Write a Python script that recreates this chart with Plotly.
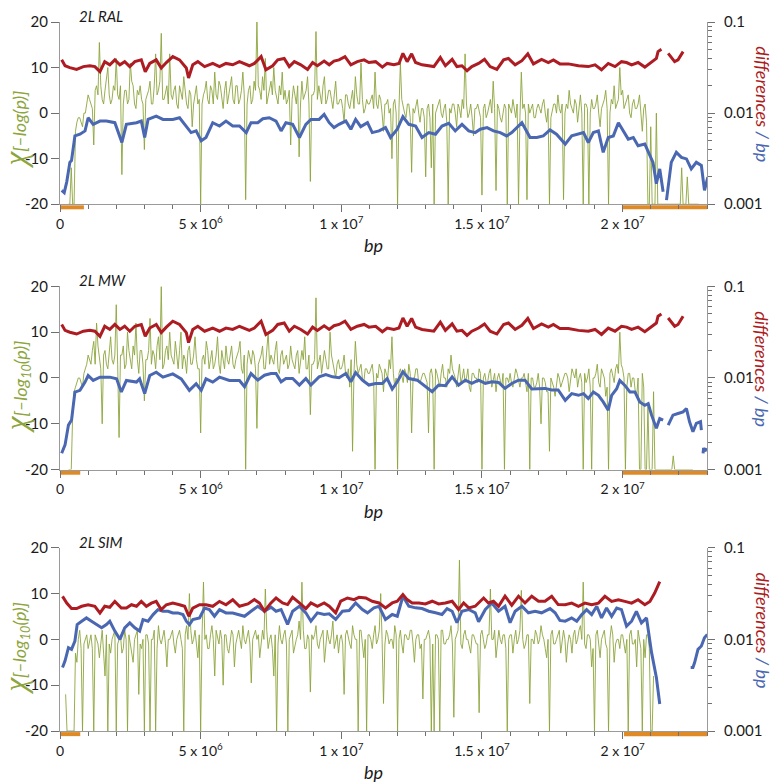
import plotly.graph_objects as go

# ---------------- data ----------------
panel_names = ["2L RAL", "2L MW", "2L SIM"]
x_tick_vals = [0, 5e6, 1e7, 1.5e7, 2e7]
x_tick_text = ["0", "5 x 10<sup>6</sup>", "1 x 10<sup>7</sup>", "1.5 x 10<sup>7</sup>", "2 x 10<sup>7</sup>"]
x_minor_vals = [i * 1e6 for i in range(0, 24)]
y_left_vals = [-20, -10, 0, 10, 20]
y_left_text = ["-20", "-10", "0", "10", "20"]
y_right_vals = [0.001, 0.01, 0.1]
y_right_text = ["0.001", "0.01", "0.1"]
y_right_minor = [0.002, 0.003, 0.004, 0.005, 0.006, 0.007, 0.008, 0.009,
                 0.02, 0.03, 0.04, 0.05, 0.06, 0.07, 0.08, 0.09]

window_mb = 0.1  # green windows, Mb (a second set sits half a window later)

# chi-square score, -log(p); windows at start + 0.1k Mb
green_ral_start = 0.3
green_ral = [
    -20, -12, -20, -2, -1, -3, 0,
    4, 2, -7, 6, 15.5, 3, 5, 10, 2, 6,
    12, 3, -13.5, 5, 2, 11, 6, 1, 4, 3,
    -8, 4, 7, 2, 13, 5, 17.5, 3, 6, 13,
    3, 6, 1, 4, 8, 2, 5, -3, 4, 2,
    -20, 4, 7, 2, 5, 9, 3, 6, 1, 7,
    4, 8, 2, 6, 3, 9, -19, 5, 2, 7,
    20, 5, 8, 12, 4, 7, 10, 3, 6, 9,
    5, 3, -7, 6, 2, -9.6, 7, 4, 8, -15,
    4, 17.9, 6, 2, 8, 3, 5, 1, 7, 2,
    3, -2, 4, 1, 5, 8, 2, 11, 0, 3,
    2, 4, 9, 1, 3, -4, 2, 0, -10, 3,
    -20, 11, 1, -1, 2, -13, 0, 3, -2, 1,
    -14, 2, -12, -20, 1, 3, -1, 2, -20, 0,
    2, -3, 1, 3, 13, -1, 2, -5, 1, 0,
    -18, 2, 0, 3, 7, -17, 1, -2, 2, -20,
    1, 3, -1, -20, 9, 2, -19, 0, 2, -1,
    2, 0, 3, -2, -20, 1, 2, 4, 0, -19,
    2, 5, 1, 3, -2, 4, -20, 2, -20, 3,
    1, 4, -3, 2, 5, -20, 3, 6, 2, 10,
    5, 2, 4, -1, 3, 1, 4, -4, 2, -20,
    -3, -20, 0, -20, -20, -20, -20, -20, -20, -20,
    -20, -12, -20, -14, -20, -20, -20, -20,
]
# windows at start + 0.05 + 0.1k Mb
green_ral_mid = [
    -20, -20, -4, -1, -2, 0, 2,
    3, 1, 5, 4, 6, 2, 7, 4, 3, 5,
    4, 6, 2, 5, 3, 7, 2, 5, 6, 2,
    3, 5, 2, 6, 4, 7, 3, 5, 2, 4,
    5, 2, 6, 3, 5, 1, 4, 2, 6, 3,
    2, 5, 3, 6, 2, 4, 7, 3, 5, 2,
    5, 3, 6, 2, 5, 4, 2, 6, 3, 5,
    6, 3, 5, 2, 6, 4, 5, 2, 4, 3,
    2, 5, 3, 4, 6, 2, 3, 5, 2, 4,
    5, 3, 4, 6, 2, 5, 3, 4, 2, 3,
    1, 4, 2, 3, 1, 4, 2, 3, 1, 2,
    3, 1, 2, 4, 0, 2, 3, 1, 2, 0,
    1, 3, 0, 2, -1, 1, 2, 0, 1, -1,
    1, -1, 2, 0, 2, 0, 1, -2, 1, 2,
    0, 2, -1, 1, 2, 0, -1, 1, 2, -1,
    1, -1, 2, 0, 1, 2, -1, 0, 1, 2,
    0, 1, 2, -1, 1, 0, 2, 1, -1, 1,
    1, 2, 0, 1, -1, 2, 0, 1, 2, 0,
    1, 2, 0, 2, 1, 0, 2, 1, 0, 1,
    2, 0, 1, 3, 1, 0, 2, 1, 3, 4,
    1, 3, 0, 2, 1, 2, 0, 1, -2, -20,
    -20, -20, -20, -20, -20, -20, -20, -20, -20, -20,
    -20, -20, -20, -20, -20, -20, -20,
]
green_mw_start = 0.3
green_mw = [
    -20, -20, -3, -1, 0, -2, 2,
    5, 3, 8, 12, 4, -10, 6, 2, 9, 3,
    16, -13, 5, 2, 10, 4, 7, 12, 1, 6,
    -5, 4, 13, 6, 2, 9, 20, 3, 7, 10,
    4, 8, 2, 10, 5, 1, 7, 3, 9, 2,
    -12, 5, 8, 2, 6, 3, 9, 1, 4, 7,
    3, 7, 2, 5, 8, 1, -20, 6, 3, 5,
    -11, 4, 7, 2, 10, 5, 3, 8, 1, 6,
    4, 2, 7, 3, 5, 1, 6, 9, 2, -8,
    3, 17.5, 4, 1, 6, 2, 10, 3, 0, 4,
    2, 5, 0, -2, -16, 8, 1, 3, -1, 2,
    1, 3, -20, 0, 2, -3, 1, 4, 9, -2,
    -20, 2, -1, 1, 3, -12, 0, 2, -1, 1,
    0, -12, 2, -20, 1, -2, 3, 0, 2, 5,
    1, -2, 3, 0, -1, 2, -3, 1, 0, 2,
    -20, 1, -1, 2, 0, -3, 1, -2, -20, 0,
    1, -2, 2, -1, 0, 1, -3, -20, 0, -2,
    1, -10, 0, -3, -16, -1, -4, 1, -2, 0,
    1, -3, 2, 0, -2, 1, -20, -1, 2, -20,
    0, 3, -2, 1, -4, -20, 2, -1, 3, 10,
    2, -20, 1, -2, 0, -4, -20, 1, -20, -6,
    -20, -3, -20, -20, -20, -20, -20, -20, -17, -20,
    -20, -20, -20, -20, -20, -20,
]
green_mw_mid = [
    -20, -8, -2, 0, -1, 1, 3,
    4, 6, 3, 7, 2, 5, 3, 6, 4, 5,
    3, 5, 7, 3, 6, 2, 5, 4, 6, 3,
    4, 6, 3, 5, 7, 4, 2, 6, 4, 5,
    3, 5, 6, 2, 4, 6, 3, 5, 4, 2,
    4, 3, 6, 4, 2, 5, 3, 6, 2, 4,
    5, 3, 4, 6, 2, 5, 3, 4, 6, 2,
    3, 5, 2, 6, 3, 4, 6, 2, 5, 3,
    5, 3, 4, 2, 6, 3, 4, 2, 5, 3,
    4, 2, 5, 3, 4, 2, 5, 1, 3, 2,
    3, 1, 2, 4, 1, 3, 2, 0, 2, 1,
    2, 0, 1, 3, 1, 2, 0, 2, 1, 0,
    1, 0, 2, -1, 1, 0, 2, -1, 0, 1,
    -1, 1, 0, 2, -1, 1, 0, -2, 1, 2,
    0, 1, -1, 2, 0, -2, 1, 0, -1, 1,
    0, -1, 1, -2, 1, 0, -1, 1, 0, -1,
    -1, 0, 1, -2, 0, -1, 1, 0, -2, -1,
    -2, 0, -1, -3, 0, -2, -1, 0, -1, 1,
    0, -1, 1, 2, 0, -1, 1, 0, -2, 0,
    1, -1, 2, 0, -2, 1, 0, 2, 1, 3,
    0, -2, 1, 0, -3, 0, -20, -2, -20, -20,
    -20, -20, -20, -20, -20, -20, -20, -20, -20, -20,
    -20, -20, -20, -20, -20,
]
green_sim_start = 0.2
green_sim = [
    -12, -20, -20, -20, -5, 2, -20, 0,
    -2, 1, -20, 0, -4, 2, -8, -20, -3, 1,
    -20, 0, -3, 2, -20, -1, -5, 1, -12, -2,
    -20, 1, -20, 0, -20, 3, -1, 2, -6, 0,
    2, -3, 1, 0, -20, 3, 10, -1, 2, -4,
    -20, 12.5, 1, -2, 3, -8, 0, 2, -10, 1,
    -3, 2, -6, 1, 0, 3, -1, 2, -9.5, 1,
    0, -4, 2, 11, -2, 1, -8, -20, 3, -1,
    2, -20, 1, -3, 0, 4, 12.5, -2, 1, -11.5,
    0, 3, -2, 1, -5, 2, -1, 4, 0, -3,
    1, -12, 2, -1, 3, 0, -20, 2, -4, -20,
    1, -2, 3, 0, 10, -14, 2, -1, 0, 3,
    -20, 2, -3, 1, 0, 2, -5, 1, -2, -13,
    0, 2, -20, -20, 1, -20, 2, -1, 0, 3,
    -17, 1, 17.3, -2, 2, 0, -3, 1, -1, -16,
    2, -2, 1, 11, 0, -4, 2, -1, 1, -20,
    1, -3, 2, 0, 10.7, -2, 1, -14, 0, 2,
    -1, 3, 0, -4, -20, 2, -1, 1, -3, 2,
    -5, 1, -3, 2, 0, 3, 12.5, -2, 1, -6,
    -20, 2, -4, 1, -1, -20, 3, -5, 0, -2,
    1, -3, -20, 2, -1, -6, 0, -20, -4, 1,
    -20, -8,
]
green_sim_mid = [
    -20, -20, -20, -3, 0, -2, -1, 1,
    0, -2, 1, -1, 0, -3, 1, -1, 0, 2,
    -1, 1, -2, 0, 1, -3, 0, 2, -1, 0,
    1, -1, 0, 2, -2, 0, 1, -1, 0, 1,
    -1, 0, 2, -2, 1, 0, 2, 0, -1, 1,
    1, 0, -2, 1, 0, 2, -1, 0, 1, -2,
    0, 1, -1, 2, -2, 0, 1, -1, 0, 2,
    1, -1, 0, 2, 0, -2, 1, -1, 0, 1,
    -1, 0, 2, -1, 1, 0, 2, -2, 0, 1,
    1, -1, 0, 2, -1, 0, 1, -2, 1, 0,
    -1, 1, 0, -2, 1, 0, 2, -1, 0, 1,
    0, 1, -1, 2, 0, -1, 1, 0, -2, 1,
    0, -1, 1, 0, 2, -1, 0, 1, -1, 0,
    1, 0, -1, 1, 0, 2, -1, 0, 1, -1,
    0, 2, -1, 1, 0, -2, 1, 0, -1, 1,
    0, -1, 1, 0, 2, -1, 0, 1, -2, 0,
    1, 0, -1, 2, 0, -1, 1, 0, -1, 1,
    0, 1, -2, 0, 1, -1, 0, 2, -1, 0,
    -1, 0, 1, -1, 2, 0, -1, 1, 0, -2,
    1, -1, 0, 2, -2, 0, 1, -1, 0, 1,
    -1, 0, 1, -1, 0, 2, -2, 0, 1, -2,
    -20,
]

# divergence (differences / bp), red series; x in Mb, None = gap
red_ral_x = [0.06, 0.18, 0.35, 0.59, 0.83, 1.06, 1.24, 1.42, 1.59, 1.77, 1.95, 2.13, 2.30, 2.48, 2.66,
             2.89, 3.03, 3.19, 3.42, 3.60, 3.78, 4.01, 4.25, 4.49, 4.57, 4.72, 4.90, 5.14, 5.43, 5.67,
             5.90, 6.14, 6.38, 6.73, 6.91, 7.15, 7.32, 7.56, 7.74, 7.97, 8.15, 8.33, 8.56, 8.80, 8.98,
             9.15, 9.39, 9.57, 9.74, 9.92, 10.13, 10.34, 10.57, 10.81, 10.98, 11.22, 11.46, 11.63,
             11.87, 12.05, 12.19, 12.34, 12.50, 12.64, 12.87, 13.11, 13.29, 13.52, 13.70, 13.94,
             14.11, 14.29, 14.47, 14.64, 14.88, 15.09, 15.29, 15.53, 15.77, 15.94, 16.18, 16.42,
             16.63, 16.83, 17.12, 17.36, 17.54, 17.77, 18.07, 18.43, 18.78, 19.02, 19.25, 19.49,
             19.73, 19.96, 20.14, 20.32, 20.55, 20.79, 21.03, 21.20, 21.26, 21.38, 21.50, 21.62,
             21.85, 21.97, 22.15]
red_ral_y = [0.0384, 0.0331, 0.0316, 0.0302, 0.0324, 0.0331, 0.0324, 0.0285, 0.0367, 0.0339, 0.0384,
             0.0339, 0.0367, 0.0324, 0.0367, 0.0384, 0.0285, 0.0351, 0.0384, 0.0313, 0.0359, 0.0417,
             0.0384, 0.0313, 0.0243, 0.0339, 0.0367, 0.0324, 0.0351, 0.0324, 0.0351, 0.0339, 0.0367,
             0.0331, 0.0351, 0.0417, 0.0299, 0.0331, 0.0384, 0.0398, 0.0324, 0.0367, 0.0339, 0.0302,
             0.0359, 0.0331, 0.0372, 0.0339, 0.0372, 0.0384, 0.0417, 0.0339, 0.0367, 0.0384, 0.0359,
             0.0367, 0.0320, 0.0351, 0.0339, 0.0351, 0.0452, 0.0367, 0.0447, 0.0359, 0.0339, 0.0331,
             0.0324, 0.0407, 0.0331, 0.0389, 0.0324, 0.0331, 0.0292, 0.0324, 0.0351, 0.0389, 0.0324,
             0.0302, 0.0384, 0.0398, 0.0339, 0.0376, 0.0447, 0.0347, 0.0389, 0.0359, 0.0384, 0.0347,
             0.0347, 0.0331, 0.0324, 0.0339, 0.0299, 0.0351, 0.0324, 0.0367, 0.0359, 0.0339, 0.0359,
             0.0320, 0.0367, 0.0398, 0.0473, 0.0501, None, 0.0452, 0.0367, 0.0384, 0.0473]
red_mw_x = red_ral_x
red_mw_y = red_ral_y
red_sim_x = [0.09, 0.24, 0.41, 0.59, 0.77, 1.00, 1.24, 1.42, 1.59, 1.77, 1.95, 2.18, 2.36, 2.54, 2.72,
             2.89, 3.07, 3.25, 3.42, 3.60, 3.78, 4.01, 4.25, 4.43, 4.58, 4.72, 4.96, 5.19, 5.43, 5.67,
             5.90, 6.14, 6.38, 6.68, 6.91, 7.09, 7.27, 7.50, 7.68, 7.91, 8.09, 8.27, 8.51, 8.74, 8.92,
             9.15, 9.39, 9.57, 9.80, 9.98, 10.22, 10.45, 10.63, 10.87, 11.10, 11.34, 11.57, 11.81,
             11.99, 12.19, 12.34, 12.52, 12.76, 12.99, 13.23, 13.46, 13.70, 13.94, 14.17, 14.35,
             14.53, 14.76, 15.06, 15.23, 15.41, 15.59, 15.82, 16.06, 16.30, 16.53, 16.77, 17.01,
             17.24, 17.48, 17.71, 17.96, 18.19, 18.43, 18.66, 18.90, 19.14, 19.37, 19.61, 19.85,
             20.08, 20.32, 20.55, 20.79, 20.97, 21.14, 21.32]
red_sim_y = [0.0295, 0.0249, 0.0217, 0.0217, 0.0230, 0.0239, 0.0230, 0.0194, 0.0230, 0.0224, 0.0260,
             0.0220, 0.0220, 0.0239, 0.0230, 0.0260, 0.0230, 0.0249, 0.0260, 0.0211, 0.0239, 0.0249,
             0.0239, 0.0230, 0.0179, 0.0220, 0.0239, 0.0239, 0.0230, 0.0260, 0.0239, 0.0271, 0.0230,
             0.0244, 0.0272, 0.0250, 0.0203, 0.0250, 0.0283, 0.0250, 0.0240, 0.0288, 0.0250, 0.0217,
             0.0250, 0.0230, 0.0250, 0.0230, 0.0195, 0.0261, 0.0283, 0.0272, 0.0288, 0.0283, 0.0261,
             0.0250, 0.0221, 0.0250, 0.0261, 0.0309, 0.0272, 0.0250, 0.0250, 0.0244, 0.0261, 0.0244,
             0.0250, 0.0261, 0.0212, 0.0250, 0.0221, 0.0230, 0.0283, 0.0250, 0.0261, 0.0230, 0.0296,
             0.0236, 0.0296, 0.0250, 0.0296, 0.0261, 0.0261, 0.0296, 0.0240, 0.0239, 0.0249, 0.0230,
             0.0249, 0.0239, 0.0249, 0.0295, 0.0260, 0.0271, 0.0260, 0.0249, 0.0271, 0.0239, 0.0260,
             0.0320, 0.0428]

# polymorphism (differences / bp), blue series
blue_ral_x = [0.06, 0.15, 0.24, 0.35, 0.41, 0.53, 0.71, 0.89, 1.00, 1.18, 1.42, 1.65, 1.95, 2.13, 2.20,
              2.36, 2.72, 2.89, 3.01, 3.13, 3.42, 3.66, 4.01, 4.25, 4.49, 4.66, 4.84, 5.02, 5.19, 5.43,
              5.67, 5.90, 6.14, 6.38, 6.62, 6.79, 7.03, 7.21, 7.44, 7.68, 7.86, 8.03, 8.27, 8.51, 8.74,
              8.92, 9.21, 9.39, 9.57, 9.74, 9.92, 10.16, 10.34, 10.51, 10.69, 10.93, 11.10, 11.34,
              11.57, 11.75, 11.99, 12.19, 12.40, 12.64, 12.87, 13.11, 13.35, 13.58, 13.82, 14.05,
              14.29, 14.53, 14.76, 14.94, 15.18, 15.41, 15.65, 15.88, 16.06, 16.42, 16.71, 16.95,
              17.18, 17.42, 17.65, 17.96, 18.19, 18.43, 18.61, 18.78, 18.96, 19.14, 19.31, 19.49,
              19.67, 19.85, 20.02, 20.20, 20.38, 20.55, 20.79, 20.91, 21.08, 21.20, 21.32, 21.44,
              21.50, 21.56, 21.73, 21.91, 22.09, 22.27, 22.44, 22.62, 22.80, 22.91, 23.03]
blue_ral_y = [0.00142, 0.00134, 0.00176, 0.00288, 0.00302, 0.00562, 0.00586, 0.00638, 0.00890, 0.00753,
              0.00818, 0.00818, 0.00785, 0.00562, 0.00476, 0.00753, 0.00785, 0.00818, 0.00540, 0.00853,
              0.00928, 0.00853, 0.00853, 0.00890, 0.00722, 0.00611, 0.00638, 0.00496, 0.00540, 0.00785,
              0.00722, 0.00818, 0.00722, 0.00722, 0.00611, 0.00785, 0.00785, 0.00868, 0.00890, 0.00818,
              0.00638, 0.00785, 0.00753, 0.00540, 0.00753, 0.00853, 0.00853, 0.00967, 0.00785, 0.00693,
              0.00753, 0.00818, 0.00665, 0.00853, 0.00710, 0.00785, 0.00611, 0.00638, 0.00693, 0.00540,
              0.00665, 0.00912, 0.00753, 0.00722, 0.00540, 0.00611, 0.00586, 0.00722, 0.00772, 0.00638,
              0.00753, 0.00638, 0.00611, 0.00665, 0.00693, 0.00638, 0.00611, 0.00562, 0.00611, 0.00785,
              0.00540, 0.00540, 0.00562, 0.00653, 0.00586, 0.00457, 0.00562, 0.00586, 0.00611, 0.00476,
              0.00611, 0.00638, 0.00371, 0.00540, 0.00562, 0.00785, 0.00638, 0.00518, 0.00540, 0.00438,
              0.00457, 0.00371, 0.00288, 0.00168, 0.00244, 0.00137, None, 0.00111, 0.00288, 0.00371,
              0.00327, 0.00314, 0.00244, 0.00288, 0.00266, 0.00142, 0.00198]
blue_mw_x = [0.06, 0.18, 0.30, 0.41, 0.53, 0.71, 0.89, 1.00, 1.18, 1.42, 1.77, 2.01, 2.18, 2.36, 2.72,
             2.83, 3.01, 3.19, 3.42, 3.66, 4.01, 4.31, 4.60, 4.84, 5.02, 5.19, 5.43, 5.67, 6.02, 6.38,
             6.56, 6.79, 7.03, 7.27, 7.50, 7.68, 7.86, 8.03, 8.27, 8.51, 8.74, 8.92, 9.21, 9.45, 9.69,
             9.92, 10.16, 10.34, 10.51, 10.75, 10.98, 11.22, 11.46, 11.63, 11.81, 11.99, 12.19, 12.40,
             12.70, 12.93, 13.23, 13.46, 13.70, 13.94, 14.17, 14.41, 14.64, 14.88, 15.12, 15.35,
             15.59, 15.82, 16.06, 16.30, 16.53, 16.77, 17.01, 17.24, 17.48, 17.71, 17.96, 18.19,
             18.43, 18.61, 18.78, 18.96, 19.14, 19.31, 19.49, 19.61, 19.79, 19.90, 20.08, 20.26,
             20.44, 20.61, 20.79, 20.91, 21.03, 21.20, 21.32, 21.44, 21.53, 21.62, 21.79, 21.97,
             22.15, 22.27, 22.38, 22.50, 22.62, 22.77, 22.80, 22.83, 22.86, 22.88, 22.93, 22.97]
blue_mw_y = [0.00151, 0.00186, 0.00306, 0.00347, 0.00703, 0.00733, 0.00902, 0.01064, 0.00940, 0.01021,
             0.01021, 0.00979, 0.00703, 0.00940, 0.00902, 0.00979, 0.00675, 0.01064, 0.01156, 0.01021,
             0.01109, 0.00979, 0.00733, 0.00865, 0.00733, 0.00979, 0.00902, 0.01021, 0.00940, 0.00940,
             0.00803, 0.01118, 0.00947, 0.01072, 0.01118, 0.01118, 0.00909, 0.00987, 0.00987, 0.00837,
             0.00987, 0.00837, 0.01029, 0.01091, 0.01029, 0.01005, 0.01118, 0.00909, 0.01147, 0.00947,
             0.00837, 0.00872, 0.00872, 0.00987, 0.00758, 0.00909, 0.01166, 0.00987, 0.00947, 0.00837,
             0.00709, 0.00837, 0.00823, 0.01029, 0.00837, 0.00947, 0.00872, 0.00947, 0.00872, 0.00909,
             0.00895, 0.00770, 0.00872, 0.00947, 0.00947, 0.00758, 0.00758, 0.00770, 0.00739, 0.00739,
             0.00571, 0.00675, 0.00647, 0.00675, 0.00596, 0.00703, 0.00647, 0.00548, 0.00445, 0.00647,
             0.00764, 0.00940, 0.00830, 0.00703, 0.00703, 0.00548, 0.00504, 0.00525, 0.00393, 0.00282,
             0.00361, 0.00347, None, 0.00306, 0.00393, 0.00409, 0.00427, 0.00464, 0.00333, 0.00259,
             0.00319, 0.00333, 0.00270, None, 0.00150, 0.00172, 0.00158, 0.00172]
blue_sim_x = [0.09, 0.18, 0.30, 0.41, 0.53, 0.61, 0.77, 0.94, 1.12, 1.30, 1.48, 1.65, 1.77, 1.95, 2.13,
              2.30, 2.48, 2.66, 2.83, 2.95, 3.13, 3.31, 3.48, 3.66, 3.84, 4.01, 4.19, 4.37, 4.49, 4.60,
              4.72, 4.96, 5.14, 5.31, 5.49, 5.67, 5.90, 6.14, 6.32, 6.56, 6.79, 7.03, 7.27, 7.50, 7.68,
              7.86, 8.09, 8.27, 8.51, 8.74, 8.92, 9.15, 9.39, 9.57, 9.80, 10.04, 10.28, 10.51, 10.75,
              10.93, 11.16, 11.34, 11.57, 11.81, 11.99, 12.19, 12.40, 12.64, 12.87, 13.11, 13.35,
              13.58, 13.76, 13.94, 14.11, 14.29, 14.53, 14.76, 14.88, 15.12, 15.35, 15.59, 15.82,
              16.00, 16.18, 16.42, 16.65, 16.89, 17.12, 17.42, 17.60, 17.77, 17.96, 18.19, 18.37,
              18.55, 18.72, 18.90, 19.08, 19.25, 19.43, 19.61, 19.79, 19.96, 20.14, 20.32, 20.49,
              20.67, 20.85, 21.03, 21.20, 21.32, 21.90, 22.42, 22.50, 22.56, 22.68, 22.80, 22.91, 23.01]
blue_sim_y = [0.00493, 0.00583, 0.00812, 0.00779, 0.00959, 0.01454, 0.01580, 0.01717, 0.01580, 0.01454,
              0.01338, 0.01454, 0.01580, 0.01232, 0.01000, 0.01338, 0.01515, 0.01338, 0.01232, 0.01646,
              0.01580, 0.01866, 0.02113, 0.02027, 0.02027, 0.01945, 0.01945, 0.01866, 0.01580, 0.01454,
              0.01646, 0.01717, 0.02203, 0.02113, 0.01789, 0.02113, 0.01945, 0.01945, 0.01866, 0.0179,
              0.0203, 0.0230, 0.0203, 0.0225, 0.0203, 0.0212, 0.0146, 0.0203, 0.0230, 0.0195, 0.0158,
              0.0195, 0.0187, 0.0190, 0.0165, 0.0203, 0.0207, 0.0250, 0.0212, 0.0195, 0.0221, 0.0230,
              0.0165, 0.0187, 0.0179, 0.0296, 0.0230, 0.0221, 0.0217, 0.0203, 0.0195, 0.0187, 0.0217,
              0.0203, 0.0152, 0.0203, 0.0212, 0.0195, 0.0156, 0.0212, 0.0250, 0.0203, 0.0230, 0.0152,
              0.0203, 0.0230, 0.0195, 0.0203, 0.0195, 0.0217, 0.0195, 0.0161, 0.01580, 0.01717,
              0.01580, 0.01866, 0.02113, 0.01866, 0.0230, 0.01717, 0.02203, 0.01789, 0.02203, 0.02113,
              0.01395, 0.01580, 0.02027, 0.01515, 0.01717, 0.00717, 0.00385, 0.00197, None, 0.00493,
              0.00493, 0.00559, 0.00779, 0.00847, 0.01042, 0.01132]

# regions marked on the axis (bp)
orange_ral = [(0, 0.85e6), (20.0e6, 23.0e6)]
orange_mw = [(0, 0.72e6), (20.0e6, 23.0e6)]
orange_sim = [(0, 0.72e6), (20.05e6, 23.0e6)]

# ---------------- styling ----------------
GREEN = "#8ca53c"
RED = "#ac1c22"
BLUE = "#4a67b2"
ORANGE = "#e08a26"
AXIS = "#9a9a9a"
TICK = "#707070"
FONT = "Lato"

domains = [[0.743, 1.0], [0.3687, 0.6271], [0.0, 0.2584]]
left_title_y = [0.41, 0.45, 0.45]
CHI = "<span style='font-family:Liberation Serif;font-size:31px'><i>χ</i></span>"
panels = [
    (green_ral_start, green_ral, green_ral_mid, red_ral_x, red_ral_y, blue_ral_x, blue_ral_y, orange_ral,
     "[–<i>log</i>(<i>p</i>)]"),
    (green_mw_start, green_mw, green_mw_mid, red_mw_x, red_mw_y, blue_mw_x, blue_mw_y, orange_mw,
     "[–<i>log</i><sub>10</sub>(<i>p</i>)]"),
    (green_sim_start, green_sim, green_sim_mid, red_sim_x, red_sim_y, blue_sim_x, blue_sim_y, orange_sim,
     "[–<i>log</i><sub>10</sub>(<i>p</i>)]"),
]

fig = go.Figure()
layout = dict(
    width=774, height=783,
    margin=dict(l=60, r=65, t=15, b=52),
    plot_bgcolor="white", paper_bgcolor="white",
    showlegend=False,
    font=dict(family=FONT, size=14, color="#1a1a1a"),
)
shapes = []
annotations = []

for i, (gstart, gvals, gmid, rx, ry, bx, by, orange, rest) in enumerate(panels):
    n = i + 1
    xa = "x" if n == 1 else f"x{n}"
    ya_l = f"y{2 * n - 1}" if n > 1 else "y"
    ya_r = f"y{2 * n}"
    pts = [((gstart + k * window_mb) * 1e6, v) for k, v in enumerate(gvals)]
    pts += [((gstart + window_mb / 2 + k * window_mb) * 1e6, v) for k, v in enumerate(gmid)]
    pts.sort()
    fig.add_trace(go.Scatter(x=[p[0] for p in pts], y=[p[1] for p in pts], mode="lines",
                             line=dict(color=GREEN, width=0.9),
                             xaxis=xa, yaxis=ya_l, hoverinfo="skip"))
    fig.add_trace(go.Scatter(x=[v * 1e6 for v in bx], y=by, mode="lines",
                             line=dict(color=BLUE, width=3), xaxis=xa, yaxis=ya_r, hoverinfo="skip"))
    fig.add_trace(go.Scatter(x=[v * 1e6 for v in rx], y=ry, mode="lines",
                             line=dict(color=RED, width=3), xaxis=xa, yaxis=ya_r, hoverinfo="skip"))

    xkey = "xaxis" if n == 1 else f"xaxis{n}"
    ylkey = "yaxis" if n == 1 else f"yaxis{2 * n - 1}"
    yrkey = f"yaxis{2 * n}"
    layout[xkey] = dict(
        domain=[0, 1], anchor=ya_l, range=[0, 23.0e6],
        showline=True, linecolor=AXIS, linewidth=1, showgrid=False, zeroline=False,
        ticks="outside", ticklen=7, tickcolor=TICK, tickwidth=1,
        tickvals=x_tick_vals, ticktext=x_tick_text, tickfont=dict(size=14),
        minor=dict(tickvals=x_minor_vals, ticks="outside", ticklen=4, tickcolor=TICK, showgrid=False),
    )
    layout[ylkey] = dict(
        domain=domains[i], anchor=xa, range=[-20, 20],
        showline=True, linecolor=AXIS, linewidth=1, showgrid=False, zeroline=False,
        ticks="outside", ticklen=8, tickcolor=TICK,
        tickvals=y_left_vals, ticktext=y_left_text, tickfont=dict(size=15),
    )
    layout[yrkey] = dict(
        overlaying=ya_l, side="right", anchor=xa, type="log", range=[-3, -1],
        showline=True, linecolor=AXIS, linewidth=1, showgrid=False, zeroline=False,
        ticks="outside", ticklen=7, tickcolor=TICK, ticklabelstandoff=6,
        tickvals=y_right_vals, ticktext=y_right_text, tickfont=dict(size=15),
        minor=dict(tickvals=y_right_minor, ticks="outside", ticklen=4, tickcolor=TICK, showgrid=False),
    )
    ydom = ya_l + " domain"
    xdom = xa + " domain"
    for (a, b) in orange:
        shapes.append(dict(type="rect", xref=xa, yref=ydom, x0=a, x1=b, y0=-0.028, y1=-0.006,
                           fillcolor=ORANGE, line=dict(width=0), layer="below"))
    annotations.append(dict(xref=xdom, yref=ydom, x=0.027, y=1.0, yshift=6, xanchor="left",
                            yanchor="middle", showarrow=False,
                            text="<i>" + panel_names[i] + "</i>", font=dict(size=15, color="#1a1a1a")))
    annotations.append(dict(xref=xdom, yref=ydom, x=0.485, y=0, yshift=-41, xanchor="center",
                            yanchor="middle", showarrow=False, text="<i>bp</i>",
                            font=dict(size=18, color="#1a1a1a")))
    annotations.append(dict(xref="paper", yref=ydom, x=-0.068, y=left_title_y[i], xanchor="center",
                            yanchor="middle", showarrow=False, textangle=-90,
                            text=CHI + "<i>" + rest + "</i>",
                            font=dict(size=18, color=GREEN)))
    annotations.append(dict(xref="paper", yref=ydom, x=1.086, y=0.55, xanchor="center",
                            yanchor="middle", showarrow=False, textangle=90,
                            text=f"<i><span style='color:{RED}'>differences</span>"
                                 f"<span style='color:{BLUE}'> / bp</span></i>",
                            font=dict(size=18)))

layout["shapes"] = shapes
layout["annotations"] = annotations
fig.update_layout(**layout)
fig.write_html("out.html", config={"displayModeBar": False},
               post_script="document.body.style.margin='0px';")
